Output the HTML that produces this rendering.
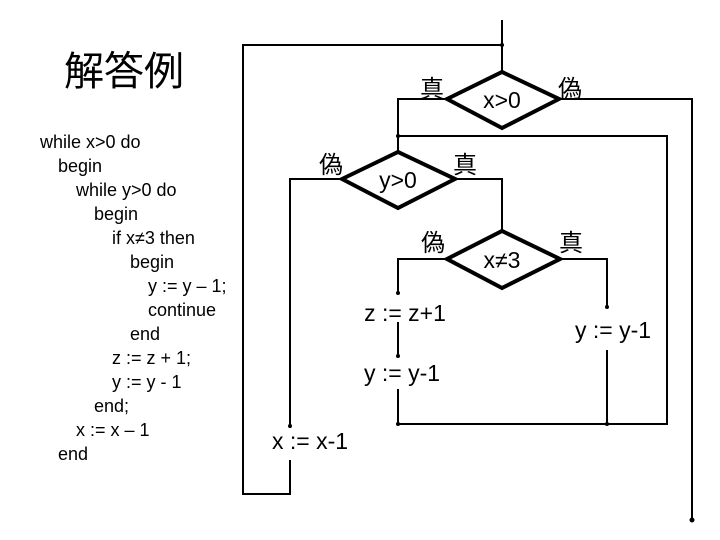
<!DOCTYPE html>
<html><head><meta charset="utf-8"><style>
html,body{margin:0;padding:0;background:#fff}
svg{display:block}
.c{font-family:"Liberation Sans",sans-serif;font-size:18px}
.f{font-family:"Liberation Sans",sans-serif;font-size:23px}
.j{font-family:"Noto Sans CJK JP",sans-serif;font-size:24px}
</style></head><body>
<svg width="720" height="540" viewBox="0 0 720 540" xmlns="http://www.w3.org/2000/svg">
<text x="64" y="85" style="font-family:'Noto Sans CJK JP',sans-serif;font-size:40px">解答例</text>
<g class="c">
<text x="40" y="148">while x&gt;0 do</text>
<text x="58" y="172">begin</text>
<text x="76" y="196">while y&gt;0 do</text>
<text x="94" y="220">begin</text>
<text x="112" y="244">if x≠3 then</text>
<text x="130" y="268">begin</text>
<text x="148" y="292">y := y – 1;</text>
<text x="148" y="316">continue</text>
<text x="130" y="340">end</text>
<text x="112" y="364">z := z + 1;</text>
<text x="112" y="388">y := y - 1</text>
<text x="94" y="412">end;</text>
<text x="76" y="436">x := x – 1</text>
<text x="58" y="460">end</text>
</g>
<g fill="none" stroke="#000" stroke-width="2">
<polyline points="502,20 502,72"/>
<polyline points="290,460 290,494 243,494 243,45 502,45"/>
<polyline points="447,99 398,99 398,152"/>
<polyline points="560,99 692,99 692,522"/>
<polyline points="398,424 667,424 667,136 398,136"/>
<polyline points="342,179 290,179 290,428"/>
<polyline points="455,179 502,179 502,231"/>
<polyline points="447,259 398,259 398,294"/>
<polyline points="398,322 398,356"/>
<polyline points="398,389 398,424"/>
<polyline points="560,259 607,259 607,307"/>
<polyline points="607,350 607,424"/>
</g>
<g fill="#fff" stroke="#000" stroke-width="4">
<polygon points="447,99 502,72 559,99 502,128"/>
<polygon points="342,179 398,152 455,179 398,208"/>
<polygon points="447,259 502,231 560,259 502,288"/>
</g>
<g fill="#000">
<circle cx="502" cy="45" r="2"/><circle cx="502" cy="72" r="2"/><circle cx="398" cy="136" r="2"/>
<circle cx="398" cy="152" r="2"/><circle cx="502" cy="231" r="2"/><circle cx="398" cy="293" r="2"/>
<circle cx="398" cy="356" r="2"/><circle cx="398" cy="424" r="2"/><circle cx="607" cy="307" r="2"/>
<circle cx="607" cy="424" r="2"/><circle cx="290" cy="426" r="2"/><circle cx="692" cy="520" r="2.5"/>
</g>
<g class="f" text-anchor="middle">
<text x="502" y="108">x&gt;0</text>
<text x="398" y="188">y&gt;0</text>
<text x="502" y="268">x≠3</text>
<text x="405" y="321">z := z+1</text>
<text x="402" y="381">y := y-1</text>
<text x="613" y="338">y := y-1</text>
<text x="310" y="449">x := x-1</text>
</g>
<g class="j" text-anchor="middle">
<text x="432" y="97">真</text>
<text x="570" y="97">偽</text>
<text x="331" y="173">偽</text>
<text x="465" y="173">真</text>
<text x="433" y="251">偽</text>
<text x="571" y="251">真</text>
</g>
</svg>
</body></html>
